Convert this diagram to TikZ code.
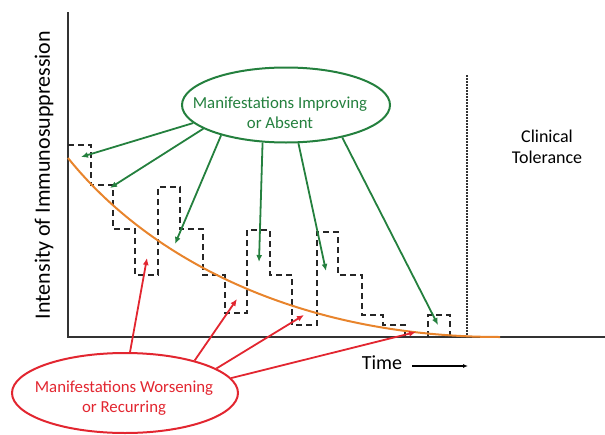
\documentclass[tikz,border=0pt]{standalone}
\usepackage{fontspec}
\setmainfont{Carlito}
\usepackage{tikz}
\usetikzlibrary{shapes.geometric,arrows.meta}

\definecolor{impgreen}{RGB}{36,128,62}
\definecolor{worsred}{RGB}{226,38,48}
\definecolor{doseorange}{RGB}{232,132,44}

\begin{document}
\begin{tikzpicture}[x=1pt,y=-1pt,
  axisline/.style={line width=2pt,color=black!80},
  dosestep/.style={line width=1.6pt,dash pattern=on 6pt off 4pt,color=black!85},
  dosecurve/.style={line width=2pt,color=doseorange},
  imparrow/.style={line width=1.8pt,color=impgreen,-{Latex[length=7pt,width=6pt]}},
  worsarrow/.style={line width=1.8pt,color=worsred,-{Latex[length=7pt,width=6pt]}},
  bubble/.style={draw,ellipse,line width=2pt,inner sep=0pt},
  bubbletext/.style={align=center,font={\fontsize{16.8}{20}\selectfont}}]
\useasboundingbox (0,0) rectangle (605,434);

% axes
\coordinate (ytop) at (68,12);
\coordinate (orig) at (68,337);
\coordinate (xend) at (605,337);
\path[draw,axisline] (ytop) -- (orig) -- (xend);
\node[rotate=90,font={\fontsize{22}{26}\selectfont}] (ylab) at (44,175) {Intensity of Immunosuppression};
\node[font={\fontsize{20}{24}\selectfont}] (time) at (382,363) {Time};
\coordinate (t0) at (412,366);
\coordinate (t1) at (468,366);
\path[draw,line width=1.1pt,-{Latex[length=5pt,width=4pt]}] (t0) -- (t1);

% tolerance line
\coordinate (tolt) at (467,75);
\coordinate (tolb) at (467,336);
\path[draw,line width=1.5pt,dash pattern=on 1.5pt off 1.5pt,color=black!80] (tolt) -- (tolb);
\node[align=center,font={\fontsize{18}{21.5}\selectfont}] (tol) at (547,147) {Clinical\\Tolerance};

% dosing steps
\path[draw,dosestep] (68,145) -| (91,185) -| (113,229) -| (135,275) -| (158,187)
  -| (180,229) -| (203,275) -| (225,313) -| (247,230) -| (270,275) -| (292,325)
  -| (317,232) -| (338,275) -| (362,315) -| (383,325) -| (405,337);
\path[draw,dosestep] (428,337) |- (450,315) -- (450,337);

% taper curve
\path[draw,dosecurve] (68,158) .. controls (150,260) and (300,337) .. (500,337);

% improving
\node[bubble,color=impgreen,minimum width=208,minimum height=75] (imp) at (286,105) {};
\node[bubbletext,text=impgreen] (imptext) at (280,113) {Manifestations Improving\\or Absent};
\coordinate (g1) at (81,157);
\coordinate (g2) at (110,188);
\coordinate (g3) at (175,244);
\coordinate (g4) at (259,262);
\coordinate (g5) at (326,271);
\coordinate (g6) at (438,325);
\path[draw,imparrow] (imp.191) -- (g1);
\path[draw,imparrow] (imp.196) -- (g2);
\path[draw,imparrow] (imp.205) -- (g3);
\path[draw,imparrow] (imp.238) -- (g4);
\path[draw,imparrow] (imp.288) -- (g5);
\path[draw,imparrow] (imp.330) -- (g6);

% worsening
\node[bubble,color=worsred,minimum width=226,minimum height=80] (wors) at (125,393) {};
\node[bubbletext,text=worsred] (worstext) at (124,398) {Manifestations Worsening\\or Recurring};
\coordinate (r1) at (147,258);
\coordinate (r2) at (237,299);
\coordinate (r3) at (304,315);
\coordinate (r4) at (416,332);
\path[draw,worsarrow] (wors.83) -- (r1);
\path[draw,worsarrow] (wors.25) -- (r2);
\path[draw,worsarrow] (wors.15) -- (r3);
\path[draw,worsarrow] (wors.8) -- (r4);
\end{tikzpicture}
\end{document}
